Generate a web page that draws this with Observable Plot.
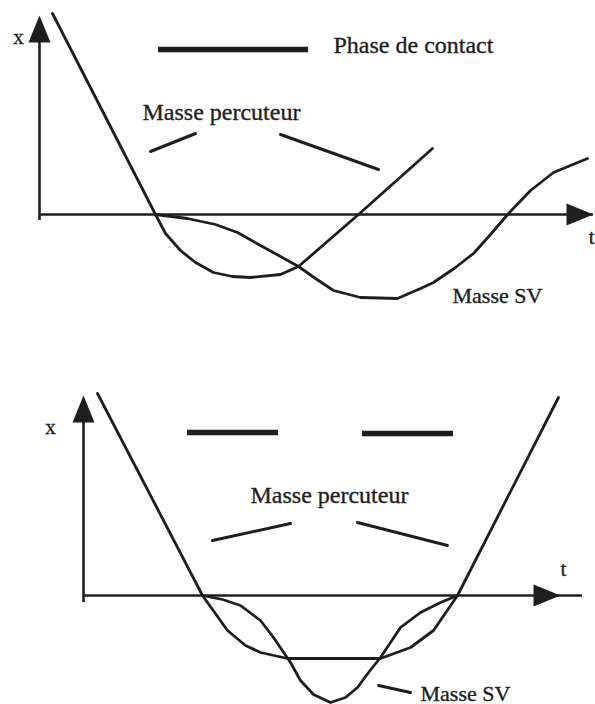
<!DOCTYPE html>
<html><head><meta charset="utf-8">
<script src="https://cdn.jsdelivr.net/npm/d3@7"></script>
<script src="https://cdn.jsdelivr.net/npm/@observablehq/plot@0.6"></script>
<style>
html,body{margin:0;padding:0;background:#fff;}
#chart svg{display:block;}
#chart svg text{font-family:"Liberation Serif","DejaVu Serif",serif !important;}
</style>
</head><body><div id="chart"></div>
<script>
// ---------- DATA (t = time position, x = displacement) ----------
// Top panel
const topPercuteurT = [52, 155, 165, 180, 195, 213, 232, 250, 280, 298, 358, 432];
const topPercuteurX = [201, 0, -19, -36, -48, -58, -62, -63, -60, -52, 0, 66];
const topSvT = [155, 187, 215, 237, 260, 280, 298, 315, 333, 360, 397, 420, 433, 455, 473, 490, 508, 530, 553, 587];
const topSvX = [0, -4, -10, -18, -31, -42, -52, -64, -76, -83, -84, -74, -68, -53, -39, -20, 1, 24, 42, 56];
const topContactT = [[158, 308]];
const topContactX = [165];
const topLeaderT = [[150, 195], [280, 378]];
const topLeaderX = [[63, 81], [80, 45]];
const topAxis = {t0: 39, tEnd: 593, xMin: -6, xMax: 199};
const topLabels = ["x", "Phase de contact", "Masse percuteur", "Masse SV", "t"];
const topLabelT = [18, 333, 142, 452, 594];
const topLabelX = [171, 162, 95, -88, -29];

// Bottom panel
const botPercuteurT = [97, 202, 227, 245, 260, 287, 380, 410, 433, 457, 558];
const botPercuteurX = [202, 0, -35, -50, -57, -63, -63, -52, -35, 0, 198];
const botSvT = [202, 222, 240, 260, 273, 290, 300, 313, 330, 345, 357, 368, 380, 400, 420, 440, 457];
const botSvX = [0, -4, -10, -25, -42, -67, -85, -99, -107, -102, -92, -77, -62, -32, -17, -7, 0];
const botContactT = [[187, 278], [362, 453]];
const botContactX = [163, 162];
const botLeaderT = [[212, 290], [357, 447], [378, 410]];
const botLeaderX = [[55, 72], [73, 50], [-90, -97]];
const botAxis = {t0: 83, tEnd: 582, tArrow: 560, xMin: -7, xMax: 200};
const botLabels = ["x", "t", "Masse percuteur", "Masse SV"];
const botLabelT = [50, 563, 250, 420];
const botLabelX = [162, 20, 93, -105];

// ---------- STYLE ----------
const ink = "#1e1e1e";
const serif = "Liberation Serif";
const W = 595;
const labelSize = {"x": 21, "t": 21, "Phase de contact": 24, "Masse percuteur": 24, "Masse SV": 22};

// filled arrowhead symbol, tip at origin, pointing up
const arrowHead = {
  draw(ctx) {
    ctx.moveTo(0, 0);
    ctx.lineTo(-11, 27);
    ctx.lineTo(11, 27);
    ctx.closePath();
  }
};

function zip(ts, xs) { return ts.map((t, i) => ({t, x: xs[i]})); }
function segs(tt, xx) { return tt.map((p, i) => ({t1: p[0], t2: p[1], x1: xx[i][0], x2: xx[i][1]})); }

function anchorFor(lab, t) {
  if (lab === "x" || lab === "t") return t > W - 10 ? "end" : "middle";
  return "start";
}

function panel({height, axisPx, percuteur, sv, contactT, contactX, leaders, axis, labels, labelT, labelX}) {
  const contact = contactT.map((p, i) => ({t1: p[0], t2: p[1], x: contactX[i]}));
  const tips = [
    {t: axis.t0, x: axis.xMax, rot: 0},
    {t: axis.tArrow ?? axis.tEnd, x: 0, rot: 90}
  ];
  const textMarks = labels.map((lab, i) => Plot.text([{t: labelT[i], x: labelX[i], lab}], {
    x: "t", y: "x", text: "lab",
    textAnchor: anchorFor(lab, labelT[i]),
    lineAnchor: "bottom",
    fontSize: labelSize[lab], fontFamily: serif, fill: ink,
    stroke: ink, strokeWidth: 0.35
  }));
  return Plot.plot({
    width: W, height,
    marginTop: 0, marginBottom: 0, marginLeft: 0, marginRight: 0,
    x: {axis: null, domain: [0, W]},
    y: {axis: null, domain: [axisPx - height, axisPx]},
    style: {background: "#fff", overflow: "hidden", fontFamily: serif},
    marks: [
      Plot.ruleY([0], {x1: axis.t0, x2: axis.tEnd, stroke: ink, strokeWidth: 2.6}),
      Plot.ruleX([axis.t0], {y1: axis.xMin, y2: axis.xMax - 10, stroke: ink, strokeWidth: 2.6}),
      Plot.dot(tips, {x: "t", y: "x", rotate: "rot", symbol: arrowHead, fill: ink, stroke: "none", r: 5}),
      Plot.line(percuteur, {x: "t", y: "x", stroke: ink, strokeWidth: 2.8, curve: "linear", strokeLinejoin: "round"}),
      Plot.line(sv, {x: "t", y: "x", stroke: ink, strokeWidth: 2.8, curve: "linear", strokeLinejoin: "round"}),
      Plot.ruleY(contact, {x1: "t1", x2: "t2", y: "x", stroke: ink, strokeWidth: 5.5}),
      Plot.link(leaders, {x1: "t1", x2: "t2", y1: "x1", y2: "x2", stroke: ink, strokeWidth: 3, strokeLinecap: "round"}),
      ...textMarks
    ]
  });
}

const chart = document.getElementById("chart");
chart.append(panel({
  height: 340, axisPx: 214,
  percuteur: zip(topPercuteurT, topPercuteurX),
  sv: zip(topSvT, topSvX),
  contactT: topContactT, contactX: topContactX,
  leaders: segs(topLeaderT, topLeaderX),
  axis: topAxis, labels: topLabels, labelT: topLabelT, labelX: topLabelX
}));
chart.append(panel({
  height: 364, axisPx: 255,
  percuteur: zip(botPercuteurT, botPercuteurX),
  sv: zip(botSvT, botSvX),
  contactT: botContactT, contactX: botContactX,
  leaders: segs(botLeaderT, botLeaderX),
  axis: botAxis, labels: botLabels, labelT: botLabelT, labelX: botLabelX
}));
</script>
</body></html>
